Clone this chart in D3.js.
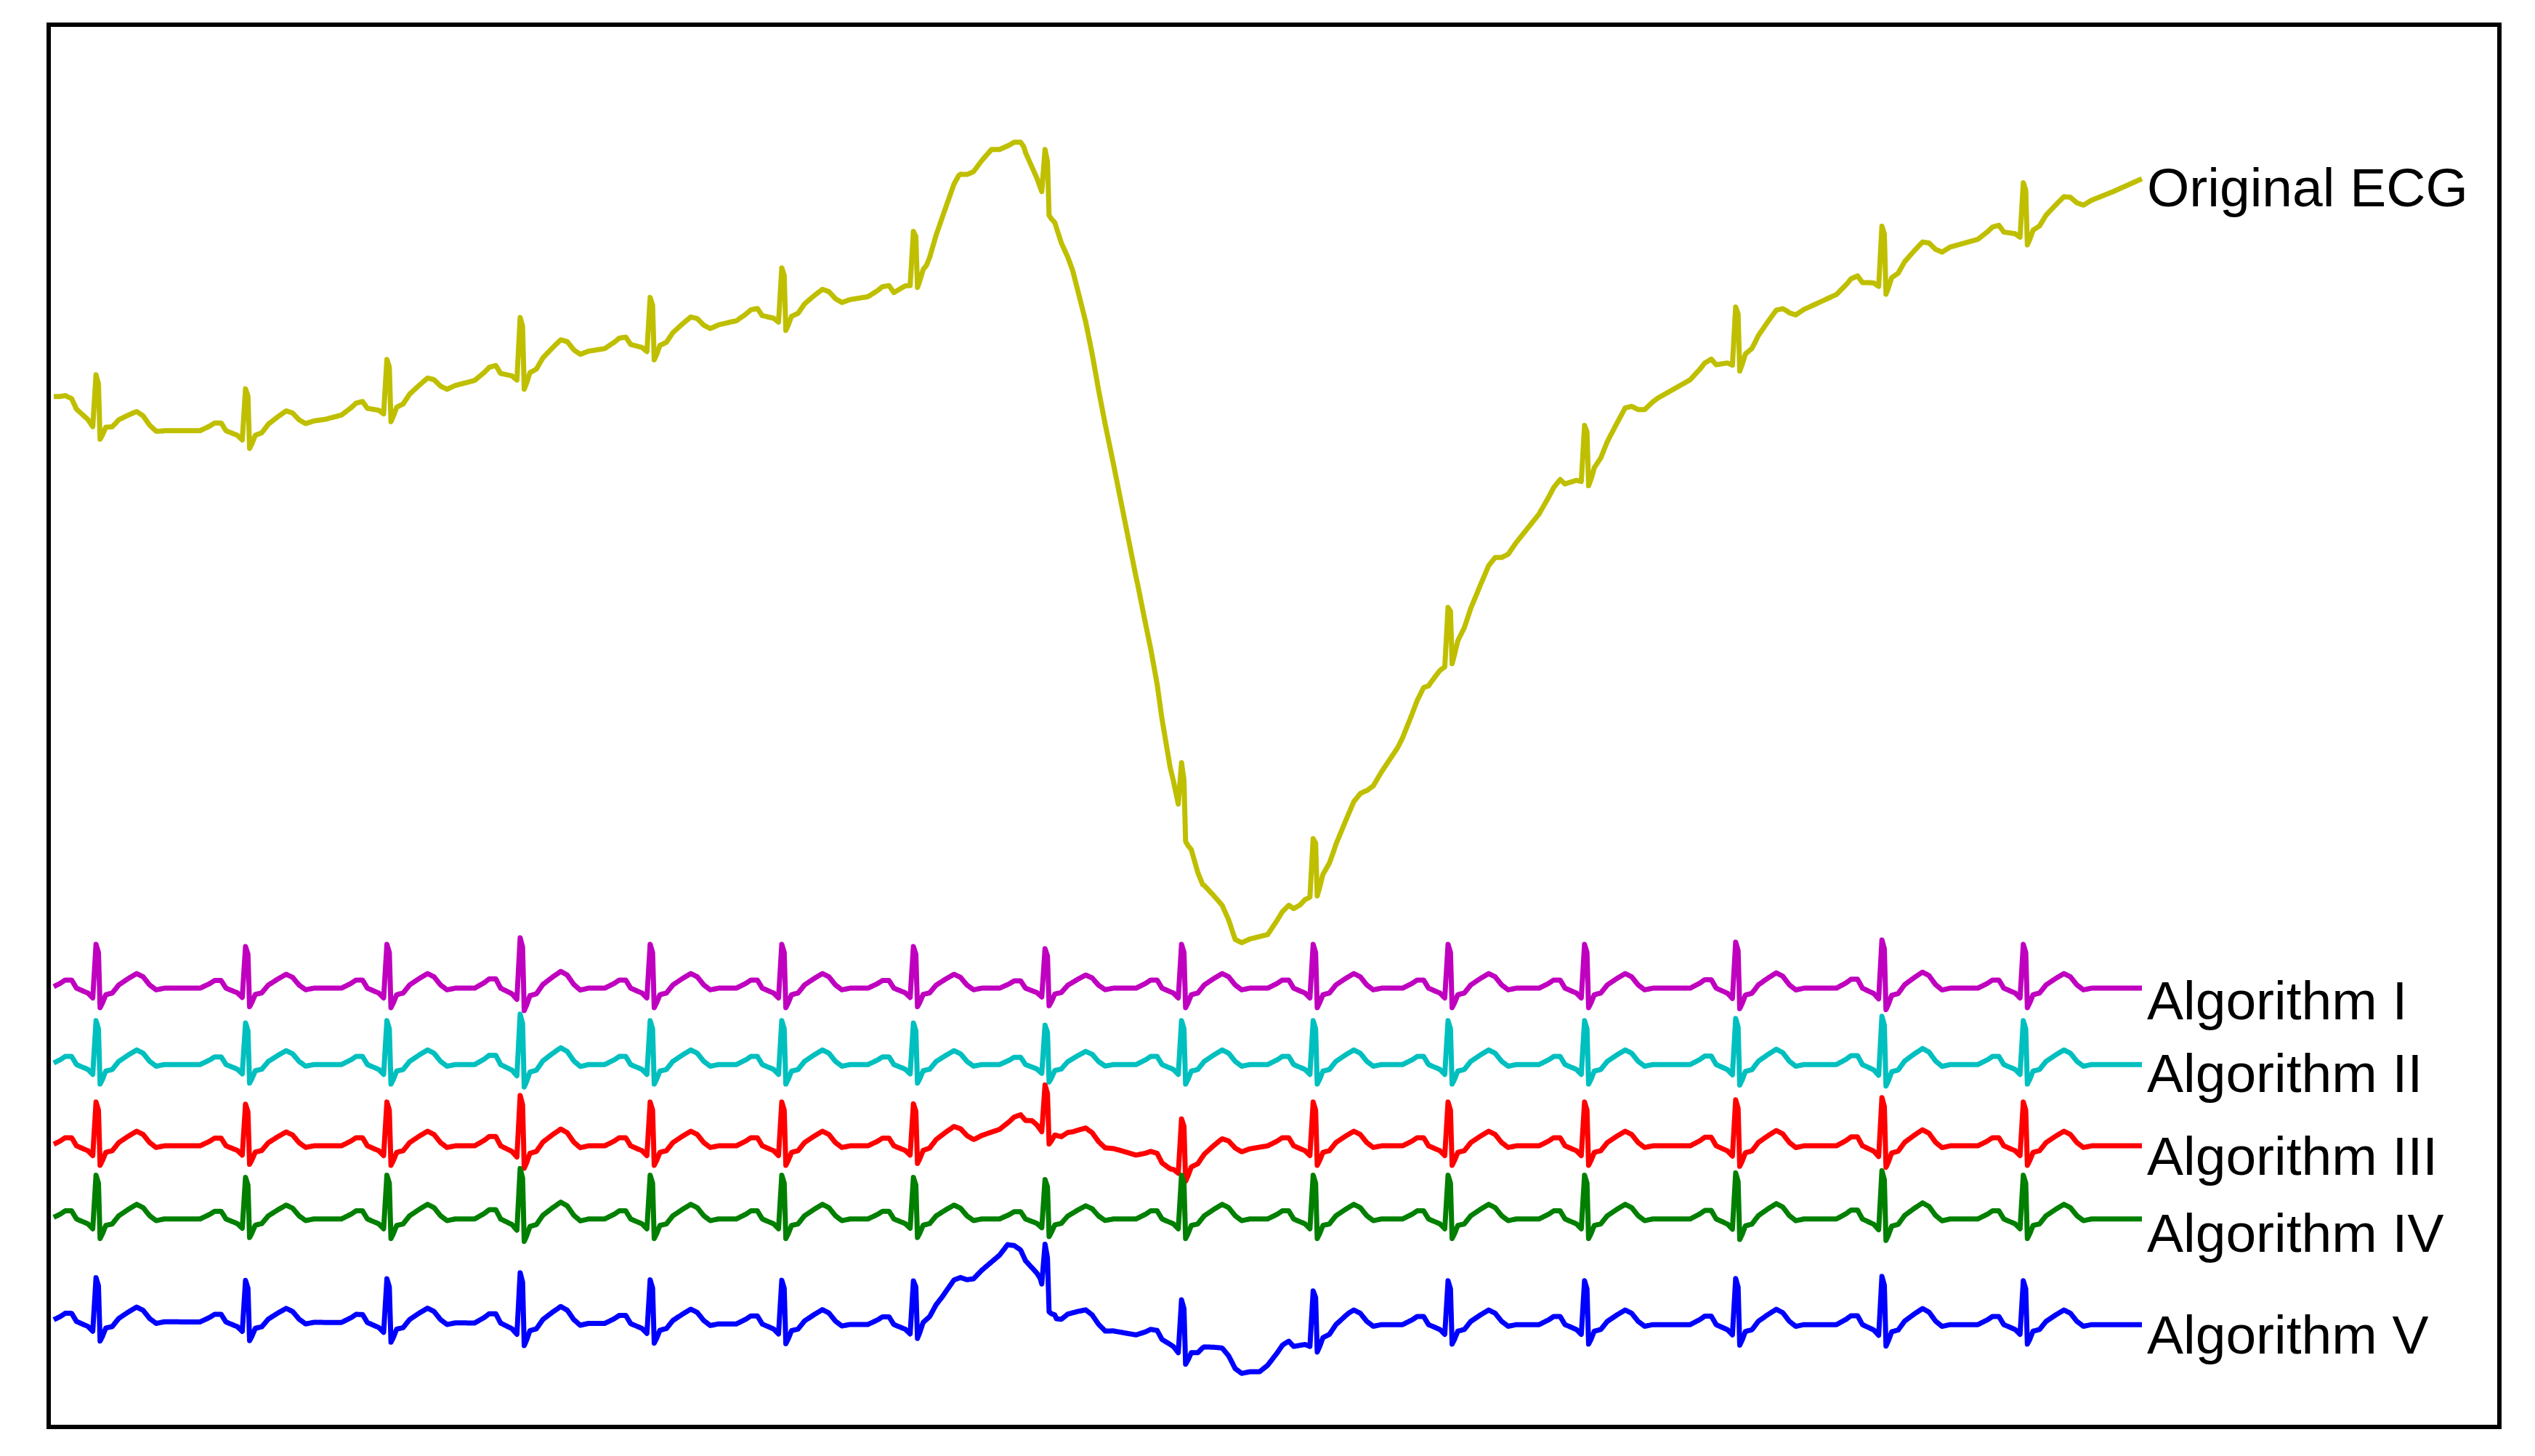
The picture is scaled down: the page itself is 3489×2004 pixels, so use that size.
<!DOCTYPE html>
<html>
<head>
<meta charset="utf-8">
<script src="https://cdn.jsdelivr.net/npm/d3@7"></script>
<style>
  body { margin: 0; background: #fff; }
  text { font-family: "Liberation Sans", Arial, sans-serif; }
</style>
</head>
<body>
<svg id="chart" width="3489" height="2004"></svg>
<script>
// Time axis in arbitrary sample units, amplitude in arbitrary units
const beatTimes = [59, 151, 238, 320, 400, 481, 562, 643, 727, 808, 891, 975, 1068, 1158, 1245];
const beatGain = [1, 0.95, 1, 1.15, 1, 1, 0.95, 0.9, 1, 1, 1, 1, 1.05, 1.1, 1];

// One heartbeat, [offset from R peak, amplitude]
const beatShape = [
  [-28, 0], [-22, 0.03], [-19, 0.05], [-15, 0.05], [-12, 0], [-5, -0.03], [-2, -0.06],
  [0, 0.27], [1.5, 0.22], [2.5, -0.12], [4, -0.09], [6, -0.04], [10, -0.03], [14, 0.02],
  [20, 0.06], [25, 0.09], [29, 0.07], [33, 0.02], [37, -0.01], [42, 0]
];

const baseOriginal = [
  [33, 6.35], [60, 6.22], [100, 6.15], [150, 6.15], [200, 6.22], [250, 6.35], [300, 6.48],
  [350, 6.62], [400, 6.70], [450, 6.82], [500, 6.92], [550, 7.00], [570, 7.20], [590, 7.65],
  [610, 7.88], [630, 7.88], [645, 7.60], [660, 7.10], [680, 6.20], [700, 5.20], [720, 4.10],
  [740, 3.35], [760, 3.00], [780, 3.05], [800, 3.25], [820, 3.55], [840, 3.90], [860, 4.20],
  [880, 4.60], [900, 4.95], [920, 5.30], [940, 5.55], [960, 5.80], [980, 5.95], [1000, 6.20],
  [1020, 6.35], [1050, 6.52], [1080, 6.70], [1100, 6.85], [1150, 7.08], [1200, 7.28],
  [1250, 7.42], [1300, 7.62], [1318, 7.70]
];
const baseAlg1 = [[33, 2.72], [1318, 2.72]];
const baseAlg2 = [[33, 2.25], [1318, 2.25]];
const baseAlg3 = [
  [33, 1.75], [560, 1.75], [600, 1.80], [635, 1.92], [660, 1.80], [690, 1.72],
  [720, 1.63], [750, 1.70], [780, 1.75], [1318, 1.75]
];
const baseAlg4 = [[33, 1.30], [1318, 1.30]];
const baseAlg5 = [
  [33, 0.67], [560, 0.65], [580, 0.78], [600, 0.95], [620, 1.12], [640, 0.98], [650, 0.72],
  [680, 0.62], [720, 0.55], [740, 0.50], [760, 0.36], [775, 0.36], [790, 0.48], [810, 0.60],
  [830, 0.65], [1318, 0.65]
];

const traces = [
  { name: "Original ECG", base: baseOriginal, color: "#bfbf00", label: 7.53 },
  { name: "Algorithm I", base: baseAlg1, color: "#bf00bf", label: 2.53 },
  { name: "Algorithm II", base: baseAlg2, color: "#00bfbf", label: 2.08 },
  { name: "Algorithm III", base: baseAlg3, color: "#ff0000", label: 1.57 },
  { name: "Algorithm IV", base: baseAlg4, color: "#007f00", label: 1.10 },
  { name: "Algorithm V", base: baseAlg5, color: "#0000ff", label: 0.47 }
];

const svg = d3.select("#chart");
const x = d3.scaleLinear().domain([33, 1318]).range([74, 2948]);
const y = d3.scaleLinear().domain([0, 8.8]).range([1968.6, 0]);

const shapeAt = d3.scaleLinear().domain(beatShape.map(d => d[0])).range(beatShape.map(d => d[1])).clamp(true);

const samples = d3.range(33, 1318.01, 0.5);
const line = d3.line().x(d => x(d[0])).y(d => y(d[1]));

traces.forEach(t => {
  const base = d3.scaleLinear().domain(t.base.map(d => d[0])).range(t.base.map(d => d[1]));
  const pts = samples.map(s => {
    let v = base(s);
    beatTimes.forEach((b, i) => {
      const dx = s - b;
      if (dx > -28 && dx < 42) v += shapeAt(dx) * beatGain[i];
    });
    return [s, v];
  });
  svg.append("path")
    .attr("d", line(pts))
    .attr("fill", "none")
    .attr("stroke", t.color)
    .attr("stroke-width", 7)
    .attr("stroke-linejoin", "round");
  svg.append("text")
    .attr("x", 2955)
    .attr("y", y(t.label))
    .attr("font-size", 75)
    .attr("fill", "#000")
    .text(t.name);
});

svg.append("rect")
  .attr("x", 67).attr("y", 34)
  .attr("width", 3373).attr("height", 1930)
  .attr("fill", "none").attr("stroke", "#000").attr("stroke-width", 6);
</script>
</body>
</html>
